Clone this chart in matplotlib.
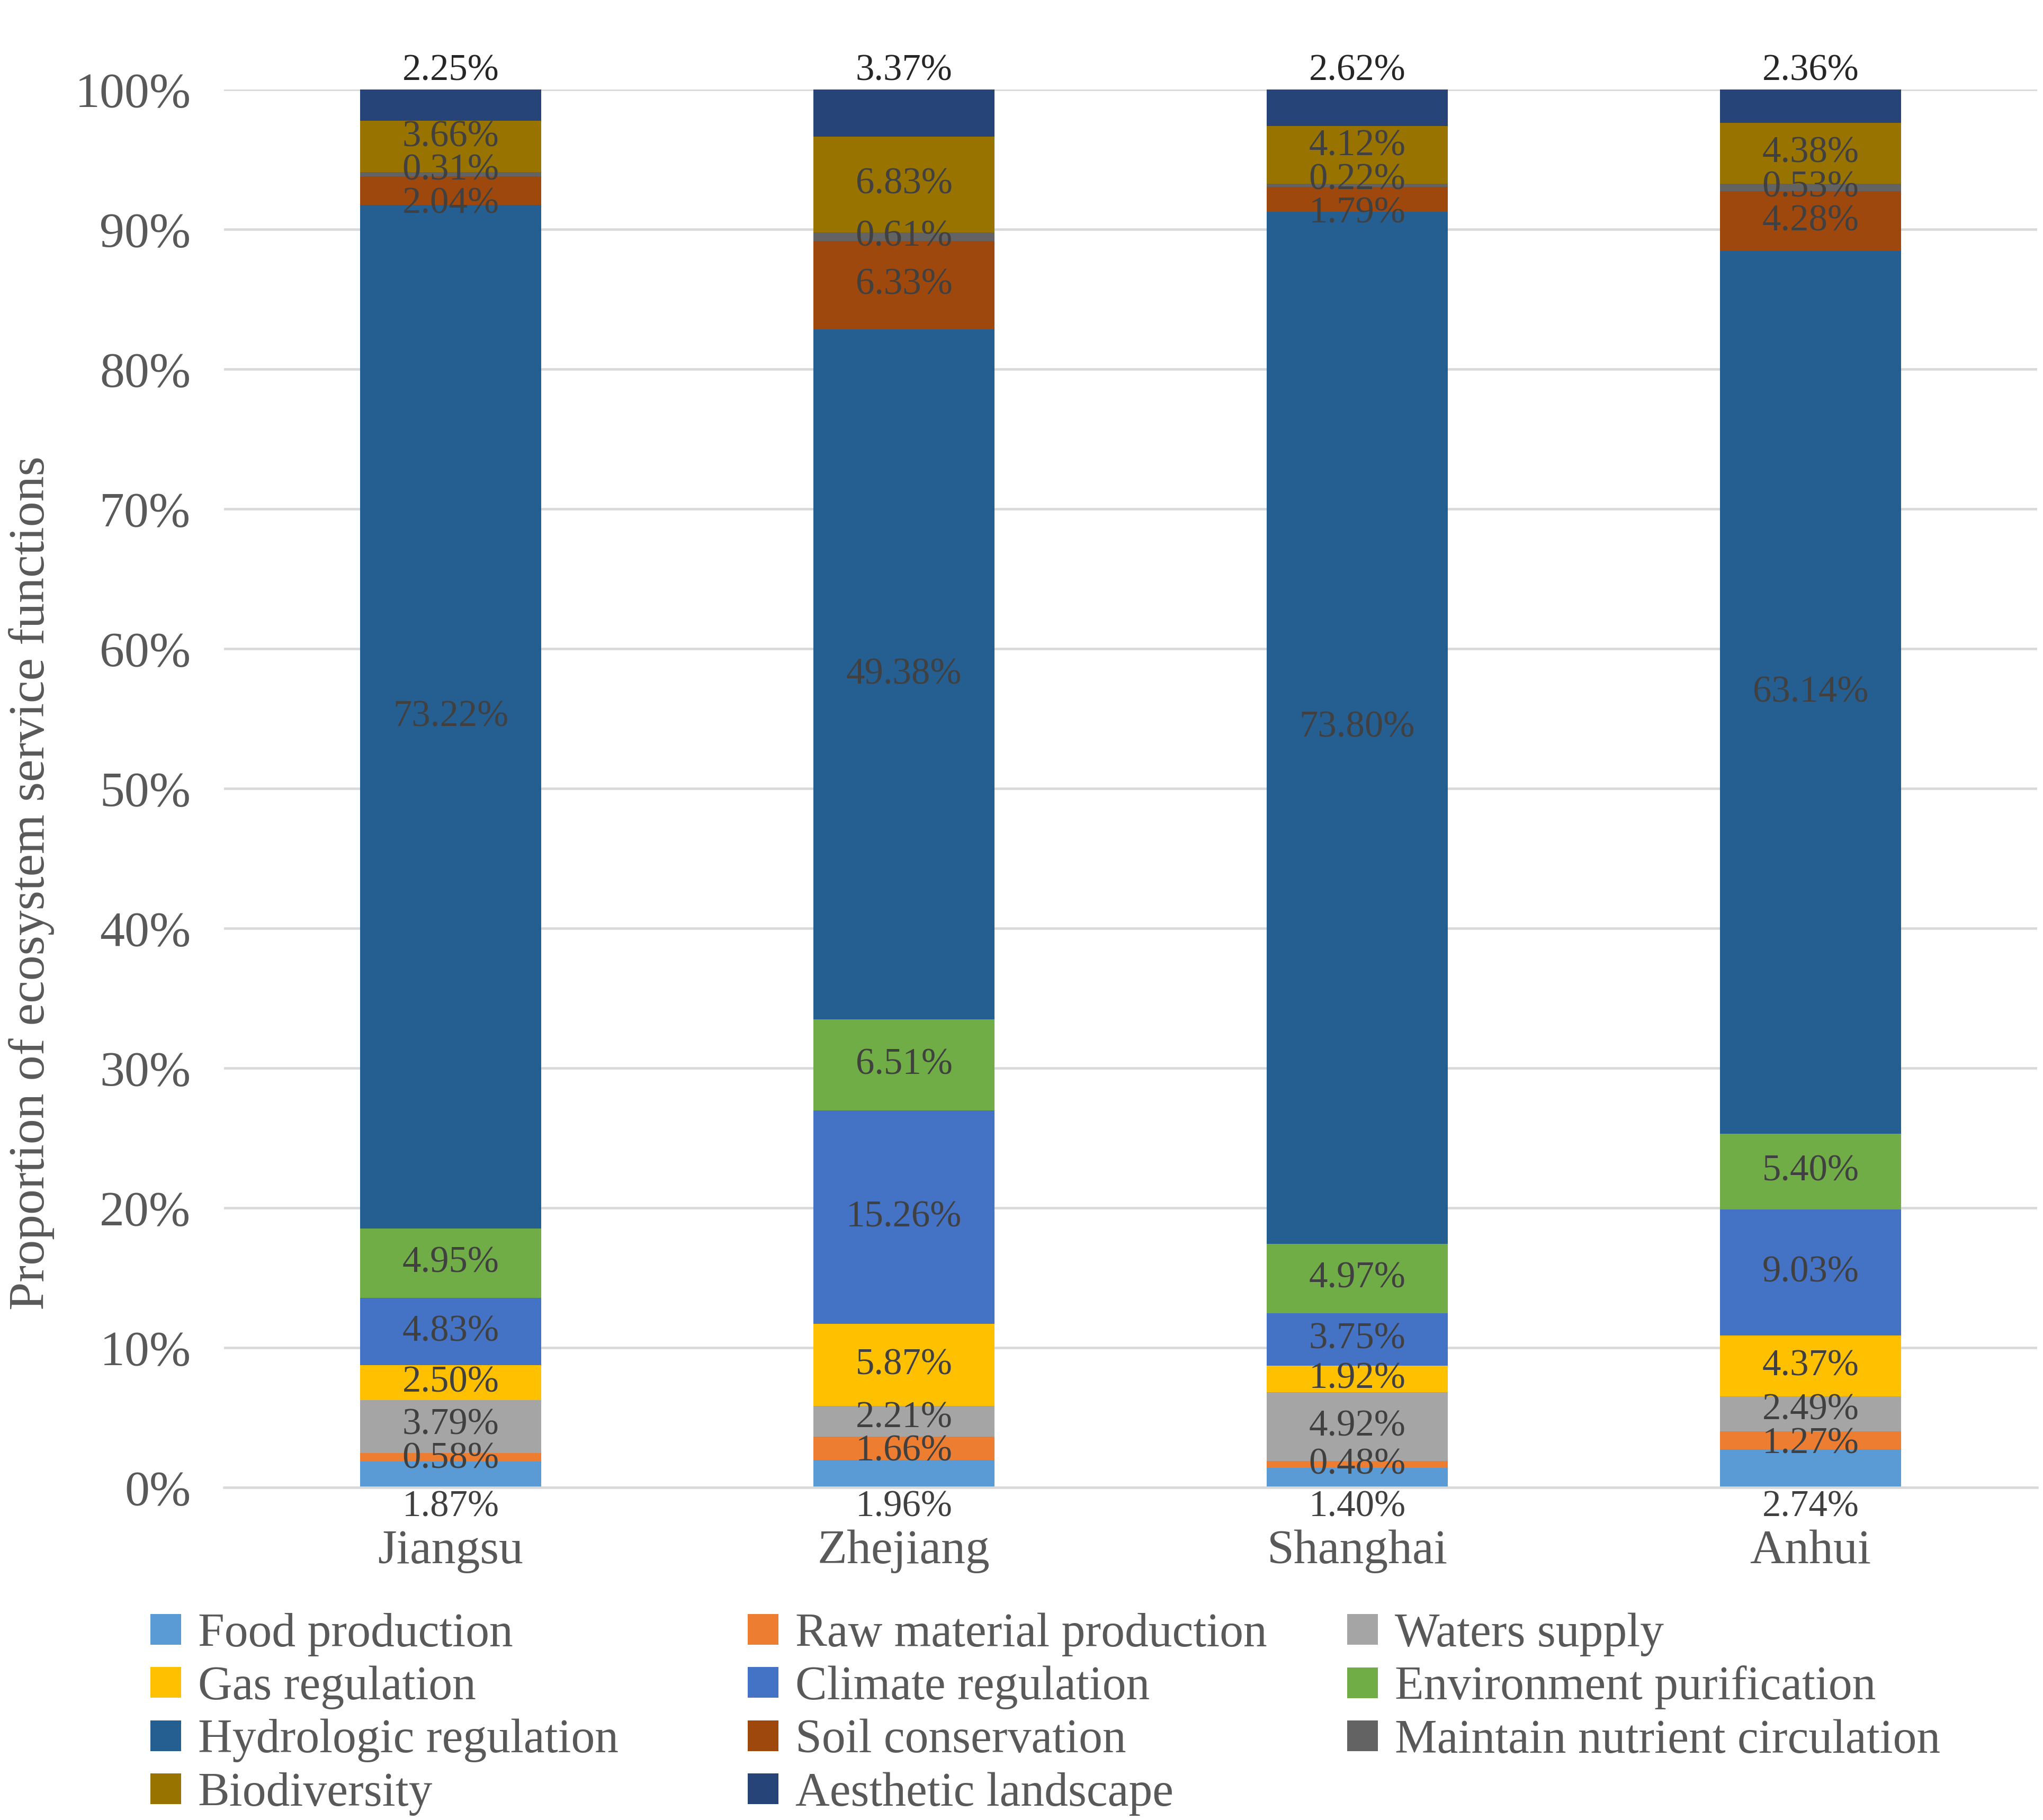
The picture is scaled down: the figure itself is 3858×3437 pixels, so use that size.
import matplotlib
matplotlib.use("Agg")
import matplotlib.pyplot as plt
from matplotlib.patches import Patch
import numpy as np

plt.rcParams['font.family'] = ['Liberation Serif', 'DejaVu Serif']

regions = ["Jiangsu", "Zhejiang", "Shanghai", "Anhui"]
services = ["Food production", "Raw material production", "Waters supply",
            "Gas regulation", "Climate regulation", "Environment purification",
            "Hydrologic regulation", "Soil conservation",
            "Maintain nutrient circulation", "Biodiversity", "Aesthetic landscape"]
colors = ["#5B9BD5", "#ED7D31", "#A5A5A5", "#FFC000", "#4472C4", "#70AD47",
          "#255E91", "#9E480E", "#636363", "#997300", "#264478"]

food = [1.87, 1.96, 1.40, 2.74]
raw_material = [0.58, 1.66, 0.48, 1.27]
waters = [3.79, 2.21, 4.92, 2.49]
gas = [2.50, 5.87, 1.92, 4.37]
climate = [4.83, 15.26, 3.75, 9.03]
environment = [4.95, 6.51, 4.97, 5.40]
hydrologic = [73.22, 49.38, 73.80, 63.14]
soil = [2.04, 6.33, 1.79, 4.28]
nutrient = [0.31, 0.61, 0.22, 0.53]
biodiversity = [3.66, 6.83, 4.12, 4.38]
aesthetic = [2.25, 3.37, 2.62, 2.36]

series = [food, raw_material, waters, gas, climate, environment,
          hydrologic, soil, nutrient, biodiversity, aesthetic]
yticks = [0, 10, 20, 30, 40, 50, 60, 70, 80, 90, 100]

fig = plt.figure(figsize=(3858/300, 3437/300), dpi=300)
ax = fig.add_axes([423/3858, 1-2809/3437, (3847-423)/3858, (2809-169)/3437])

x = np.arange(len(regions))
data = np.array(series)
bottoms = np.vstack([np.zeros(len(regions)), np.cumsum(data, axis=0)[:-1]])
handles = []
for i, (name, c) in enumerate(zip(services, colors)):
    ax.bar(x, data[i], 0.4, bottom=bottoms[i], color=c, label=name, zorder=2)
    handles.append(Patch(facecolor=c, edgecolor='none', label=name))

# data labels: centred in segments, gently spread apart where they crowd
label_color = "#404040"
min_gap = 2.4
for j, xi in enumerate(x):
    centers = bottoms[1:-1, j] + data[1:-1, j] / 2
    pos = centers.copy()
    for _ in range(200):
        for k in range(len(pos) - 1):
            gap = pos[k + 1] - pos[k]
            if gap < min_gap:
                d = (min_gap - gap) / 2
                pos[k] -= d
                pos[k + 1] += d
    for k, p in enumerate(pos):
        ax.text(xi, p, f"{data[k + 1, j]:.2f}%", ha='center', va='center',
                fontsize=17, color=label_color, zorder=3)
    ax.annotate(f"{data[0, j]:.2f}%", (xi, 0), xytext=(0, -1),
                textcoords='offset points', ha='center', va='top',
                fontsize=17, color=label_color, zorder=3)
    ax.annotate(f"{data[-1, j]:.2f}%", (xi, 100), xytext=(0, 4.3),
                textcoords='offset points', ha='center', va='baseline',
                fontsize=17, color="#262626", zorder=3)

ax.set_xlim(-0.5, len(regions) - 0.5)
ax.set_ylim(0, 100)
ax.set_yticks(yticks)
ax.set_yticklabels([f"{t}%" for t in yticks])
ax.set_xticks(x)
ax.set_xticklabels(regions)
ax.tick_params(axis='y', length=0, pad=15, labelsize=22.5, labelcolor="#595959")
ax.tick_params(axis='x', length=0, pad=19, labelsize=22, labelcolor="#595959")
ax.grid(axis='y', color="#D9D9D9", linewidth=1.1, zorder=0)
ax.set_axisbelow(True)
for s in ['top', 'right', 'left']:
    ax.spines[s].set_visible(False)
ax.spines['bottom'].set_color("#D9D9D9")
ax.spines['bottom'].set_linewidth(1.1)

fig.text(60/3858, 1-1668/3437, "Proportion of ecosystem service functions",
         rotation=90, ha='center', va='center', fontsize=23, color="#595959")

order = [[0, 3, 6, 9], [1, 4, 7, 10], [2, 5, 8]]
col_x = [284/3858, 1412/3858, 2544/3858]
for cols, cx in zip(order, col_x):
    leg = fig.legend([handles[k] for k in cols], [services[k] for k in cols],
                     loc='upper left', bbox_to_anchor=(cx, 1-3045/3437),
                     frameon=False, fontsize=21.5, handlelength=0.65,
                     handleheight=0.62, handletextpad=0.35, labelspacing=0.2,
                     borderpad=0, borderaxespad=0)
    for t in leg.get_texts():
        t.set_color("#595959")

fig.savefig("out.png", dpi=300)
